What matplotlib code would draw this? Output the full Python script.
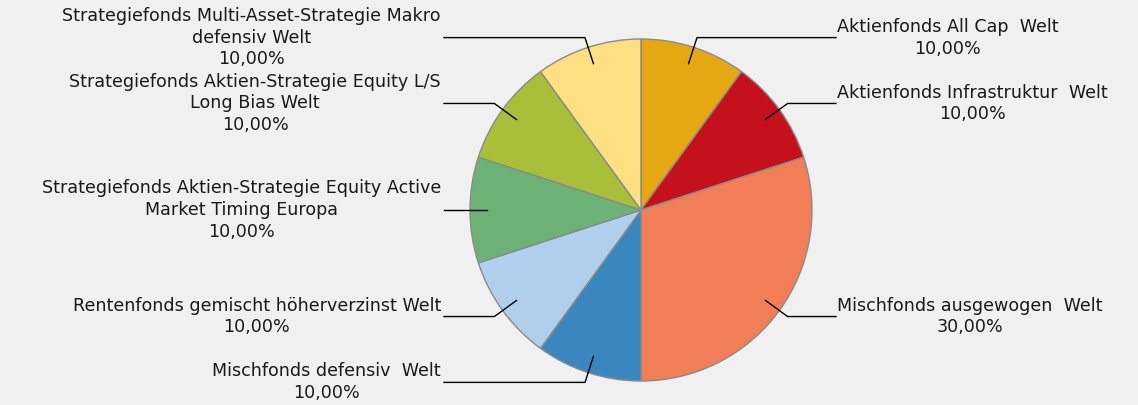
import matplotlib.pyplot as plt
import numpy as np

# Fund names and weights
labels = [
    'Aktienfonds All Cap  Welt',
    'Aktienfonds Infrastruktur  Welt',
    'Mischfonds ausgewogen  Welt',
    'Mischfonds defensiv  Welt',
    'Rentenfonds gemischt höherverzinst Welt',
    'Strategiefonds Aktien-Strategie Equity Active\nMarket Timing Europa',
    'Strategiefonds Aktien-Strategie Equity L/S\nLong Bias Welt',
    'Strategiefonds Multi-Asset-Strategie Makro\ndefensiv Welt',
]
shares = [10, 10, 30, 10, 10, 10, 10, 10]
colors = ['#E5A812', '#C4111C', '#F27E57', '#3A87C0',
          '#AFCFEC', '#6CB276', '#A9BF3A', '#FEE083']

W, H = 1138, 405
fig = plt.figure(figsize=(W / 100, H / 100), dpi=100, facecolor='#F0F0F0')
ax = fig.add_axes([0, 0, 1, 1])
ax.set_xlim(0, W)
ax.set_ylim(0, H)
ax.set_aspect('equal')
ax.axis('off')

cx, cy, R = 641, 405 - 210, 171
wedges, _ = ax.pie(shares, colors=colors, startangle=90, counterclock=False,
                   center=(cx, cy), radius=R,
                   wedgeprops=dict(edgecolor='#8a8a8a', linewidth=1))
ax.set_xlim(0, W)
ax.set_ylim(0, H)

# leader lines and labels
for w, lab, s in zip(wedges, labels, shares):
    ang = np.deg2rad((w.theta1 + w.theta2) / 2)
    x0, y0 = cx + 0.9 * R * np.cos(ang), cy + 0.9 * R * np.sin(ang)
    x1, y1 = cx + 1.06 * R * np.cos(ang), cy + 1.06 * R * np.sin(ang)
    right = np.cos(ang) > 0.01
    xe = 836 if right else 444
    ax.plot([x0, x1, xe], [y0, y1, y1], color='black', lw=1)
    txt = f'{lab}\n{s:.2f}'.replace('.', ',') + '%'
    ax.text(xe + (1 if right else -3), y1, txt,
            ha='left' if right else 'right', va='center',
            multialignment='center', fontsize=12.6, color='#1a1a1a',
            family='DejaVu Sans', linespacing=1.27)

fig.savefig('out.png', dpi=100, facecolor=fig.get_facecolor())
